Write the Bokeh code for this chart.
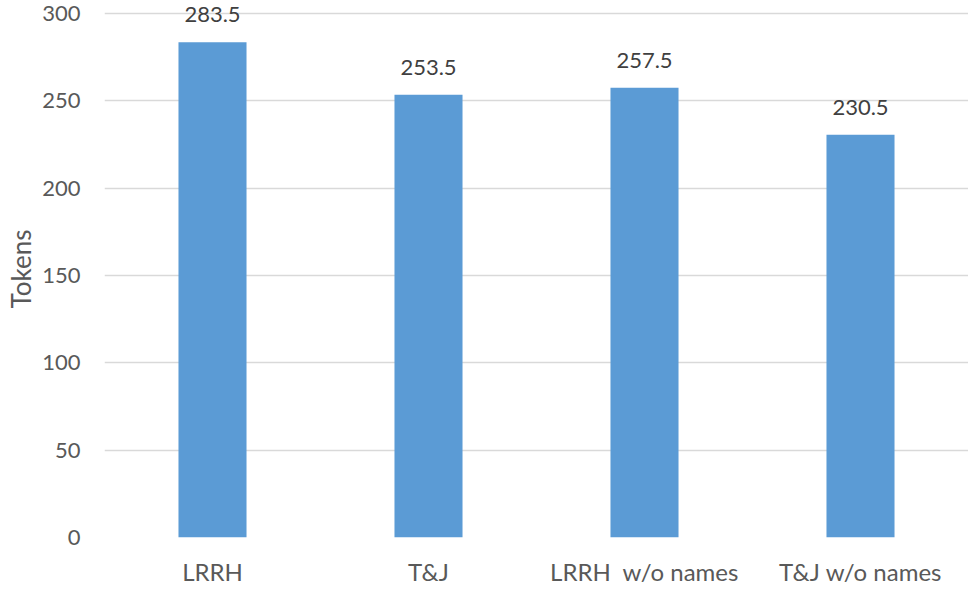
from bokeh.plotting import figure
from bokeh.models import ColumnDataSource, LabelSet, FactorRange, Range1d
from bokeh.core.properties import value
from bokeh.embed import file_html
from bokeh.resources import INLINE

categories = ["LRRH", "T&J", "LRRH\u00a0 w/o names", "T&J w/o names"]
tokens = [283.5, 253.5, 257.5, 230.5]
labels = ["283.5", "253.5", "257.5", "230.5"]
y_ticks = [0, 50, 100, 150, 200, 250, 300]

FONT = "Lato"
src = ColumnDataSource(dict(cat=categories, val=tokens, lab=labels))

p = figure(x_range=FactorRange(*categories, range_padding=0), y_range=Range1d(0, 307.4),
           width=968, height=588, output_backend="svg", toolbar_location=None,
           min_border_left=104, min_border_right=0, min_border_top=0, min_border_bottom=49)
p.outline_line_color = None

p.vbar(x="cat", top="val", width=0.315, source=src, color="#5B9BD5", line_color=None)

p.add_layout(LabelSet(x="cat", y="val", text="lab", source=src, y_offset=20,
                      text_align="center", text_baseline="alphabetic",
                      text_font=value(FONT), text_font_size="22px", text_color="#404040"))

p.yaxis.ticker = y_ticks
p.yaxis.axis_label = "Tokens"
for ax in (p.xaxis[0], p.yaxis[0]):
    ax.axis_line_color = None
    ax.major_tick_line_color = None
    ax.minor_tick_line_color = None
    ax.major_label_text_font = FONT
    ax.major_label_text_color = "#595959"
p.yaxis.major_label_text_font_size = "22px"
p.xaxis.major_label_text_font_size = "24px"
p.yaxis.major_label_standoff = 18
p.xaxis.major_label_standoff = 13
p.yaxis.axis_label_text_font = FONT
p.yaxis.axis_label_text_font_size = "26px"
p.yaxis.axis_label_text_font_style = "normal"
p.yaxis.axis_label_text_color = "#595959"
p.yaxis.axis_label_standoff = 2

p.xgrid.grid_line_color = None
p.ygrid.grid_line_color = "#D9D9D9"
p.ygrid.grid_line_width = 1.5

open("out.html", "w").write(file_html(p, INLINE))
